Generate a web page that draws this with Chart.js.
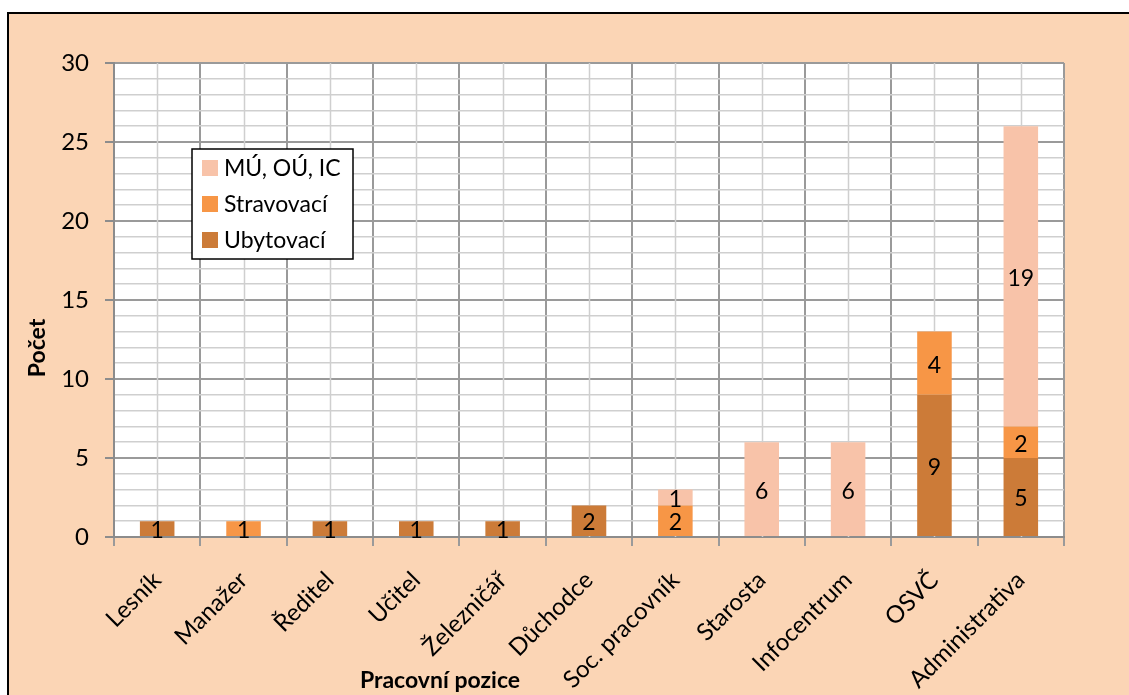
<!DOCTYPE html>
<html>
<head>
<meta charset="utf-8">
<script src="https://cdn.jsdelivr.net/npm/chart.js@4"></script>
<style>
    body { margin: 0; overflow: hidden; background: #fff; }
    #frame { position: absolute; left: 7px; top: 12px; width: 1200px; height: 800px; background: #FBD5B5; border: 2px solid #000; }
    #chart { position: absolute; left: 0; top: 0; }
</style>
</head>
<body>
<div id="frame"></div>
<canvas id="chart" width="1129" height="695"></canvas>
<script>
const categories = ['Lesník', 'Manažer', 'Ředitel', 'Učitel', 'Železničář', 'Důchodce', 'Soc. pracovník', 'Starosta', 'Infocentrum', 'OSVČ', 'Administrativa'];
const ubytovaci = [1, 0, 1, 1, 1, 2, 0, 0, 0, 9, 5];
const stravovaci = [0, 1, 0, 0, 0, 0, 2, 0, 0, 4, 2];
const mu = [0, 0, 0, 0, 0, 0, 1, 6, 6, 0, 19];
const yTicks = [0, 5, 10, 15, 20, 25, 30];

const FONT = 'Lato';

// white plot area + minor vertical lines at category centres
const plotBg = {
    id: 'plotBg',
    beforeDraw(chart) {
        const { ctx, chartArea: a } = chart;
        ctx.save();
        ctx.fillStyle = '#fff';
        ctx.fillRect(a.left, a.top, a.right - a.left, a.bottom - a.top);
        ctx.restore();
    },
    beforeDatasetsDraw(chart) {
        const { ctx, chartArea: a } = chart;
        const x = chart.scales.x;
        ctx.save();
        ctx.strokeStyle = '#cfcfcf';
        ctx.lineWidth = 1.5;
        categories.forEach((c, i) => {
            const px = Math.round(x.getPixelForValue(i)) + 0.5;
            ctx.beginPath();
            ctx.moveTo(px, a.top);
            ctx.lineTo(px, a.bottom);
            ctx.stroke();
        });
        ctx.restore();
    }
};

// numbers in the middle of each segment
const segLabels = {
    id: 'segLabels',
    afterDatasetsDraw(chart) {
        const ctx = chart.ctx;
        ctx.save();
        ctx.font = '23px ' + FONT;
        ctx.fillStyle = '#000';
        ctx.textAlign = 'center';
        ctx.textBaseline = 'middle';
        chart.data.datasets.forEach((ds, i) => {
            const meta = chart.getDatasetMeta(i);
            meta.data.forEach((bar, j) => {
                const v = ds.data[j];
                if (!v) return;
                ctx.fillText(v, bar.x, (bar.y + bar.base) / 2 + 2);
            });
        });
        ctx.restore();
    }
};

// legend box, axis titles
const extras = {
    id: 'extras',
    afterDraw(chart) {
        const ctx = chart.ctx;
        ctx.save();
        const bx = 192, by = 149, bw = 161, bh = 110;
        ctx.fillStyle = '#fff';
        ctx.fillRect(bx, by, bw, bh);
        ctx.strokeStyle = '#000';
        ctx.lineWidth = 1.5;
        ctx.strokeRect(bx, by, bw, bh);
        const items = chart.data.datasets.slice().reverse();
        ctx.font = '23px ' + FONT;
        ctx.textBaseline = 'middle';
        ctx.textAlign = 'left';
        items.forEach((ds, k) => {
            const cy = by + 19 + k * 36;
            ctx.fillStyle = ds.backgroundColor;
            ctx.fillRect(bx + 10, cy - 8, 16, 16);
            ctx.fillStyle = '#000';
            ctx.fillText(ds.label, bx + 32, cy + 1);
        });

        ctx.font = 'bold 23px ' + FONT;
        ctx.textAlign = 'center';
        ctx.fillText('Pracovní pozice', 440, 681);
        ctx.translate(38, 348);
        ctx.rotate(-Math.PI / 2);
        ctx.fillText('Počet', 0, 0);
        ctx.restore();
    }
};

const ctx = document.getElementById('chart').getContext('2d');
new Chart(ctx, {
    type: 'bar',
    data: {
        labels: categories,
        datasets: [
            { label: 'Ubytovací', data: ubytovaci, backgroundColor: '#CC7B38' },
            { label: 'Stravovací', data: stravovaci, backgroundColor: '#F79646' },
            { label: 'MÚ, OÚ, IC', data: mu, backgroundColor: '#F8C3A9' }
        ]
    },
    options: {
        responsive: false,
        animation: false,
        categoryPercentage: 1,
        barPercentage: 0.4,
        layout: { padding: { top: 63, right: 65, left: 0, bottom: 0 } },
        plugins: {
            legend: { display: false },
            tooltip: { enabled: false }
        },
        scales: {
            x: {
                stacked: true,
                afterFit: s => { s.height = 158; },
                grid: { color: '#9a9a9a', lineWidth: 2, tickLength: 9, tickColor: '#9a9a9a' },
                border: { color: '#8c8c8c', width: 2 },
                ticks: {
                    color: '#000',
                    font: { family: FONT, size: 24 },
                    minRotation: 45,
                    maxRotation: 45,
                    autoSkip: false,
                    padding: 20
                }
            },
            y: {
                stacked: true,
                min: 0,
                max: 30,
                afterFit: s => { s.width = 114; },
                grid: {
                    color: c => (c.tick && c.tick.value % 5 === 0) ? '#9a9a9a' : '#cfcfcf',
                    lineWidth: c => (c.tick && c.tick.value % 5 === 0) ? 2 : 1.5,
                    tickColor: c => (c.tick && c.tick.value % 5 === 0) ? '#8c8c8c' : 'rgba(0,0,0,0)',
                    tickLength: 9
                },
                border: { color: '#8c8c8c', width: 2 },
                ticks: {
                    stepSize: 1,
                    autoSkip: false,
                    color: '#000',
                    font: { family: FONT, size: 24 },
                    padding: 16,
                    callback: v => yTicks.includes(v) ? v : ''
                }
            }
        }
    },
    plugins: [plotBg, segLabels, extras]
});
</script>
</body>
</html>
